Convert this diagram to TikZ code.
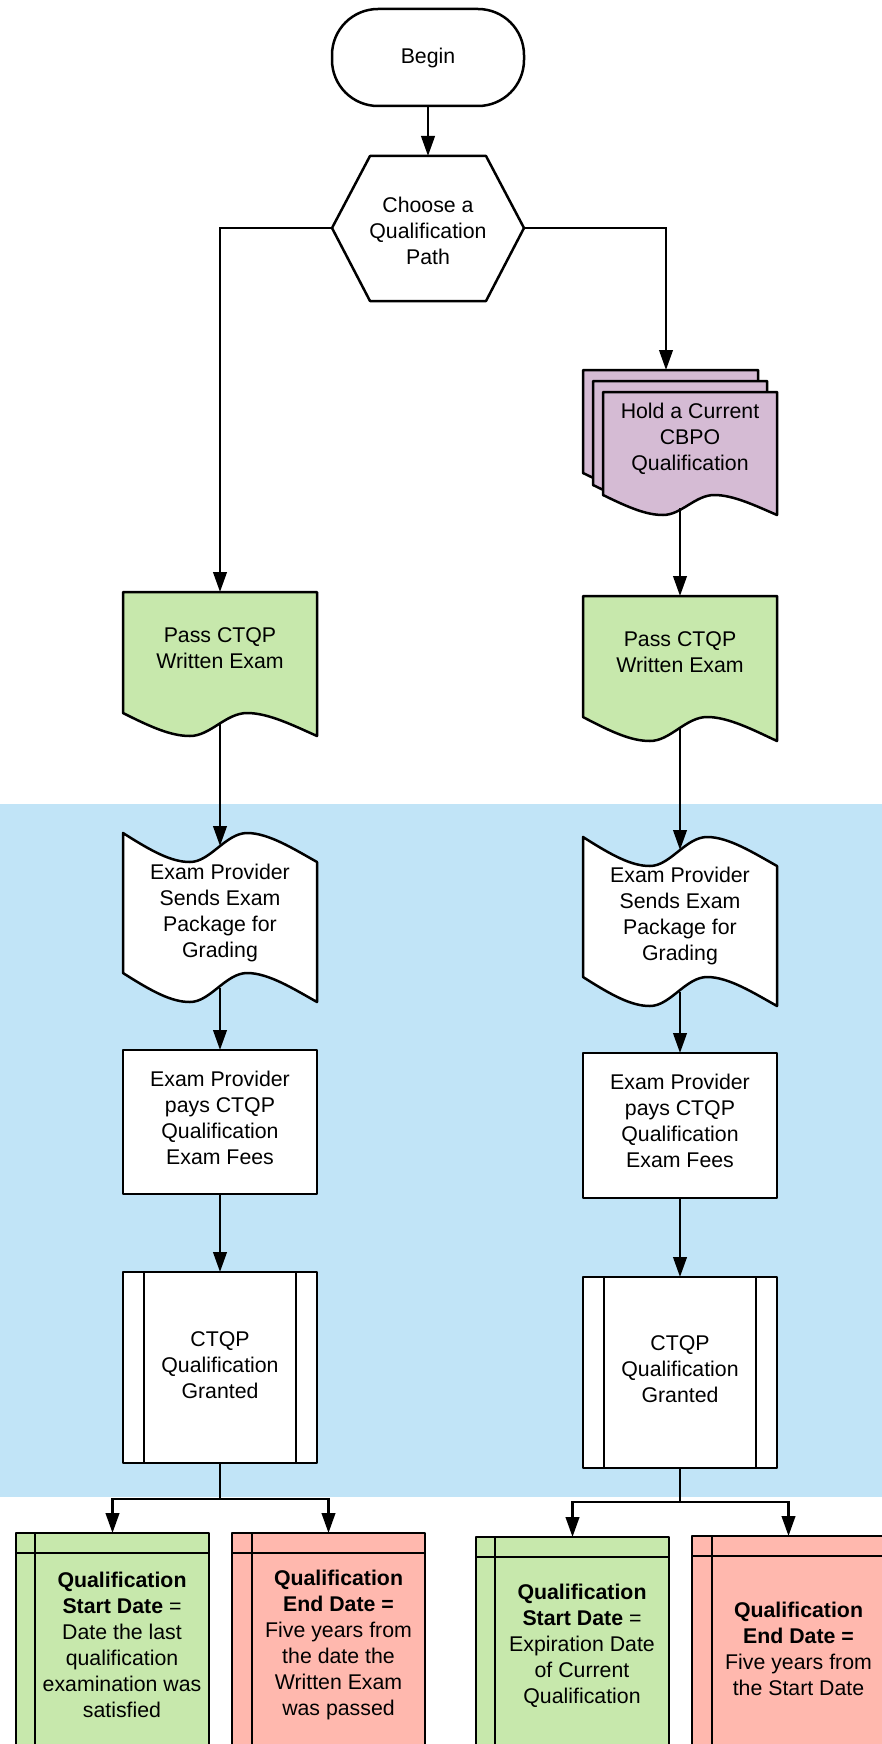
\documentclass[tikz,border=0pt]{standalone}
\usepackage{fontspec}
\setmainfont{Liberation Sans}
\usetikzlibrary{arrows.meta}
\definecolor{bgblue}{HTML}{C1E4F7}
\definecolor{docgreen}{HTML}{C7E8AC}
\definecolor{docpurple}{HTML}{D5BBD4}
\definecolor{docred}{HTML}{FFB8AE}
\tikzset{
  shp/.style={draw=black, line width=2.5pt, line join=round},
  conn/.style={draw=black, line width=2.5pt, -{Triangle[length=20pt,width=13.5pt]}},
  plain/.style={draw=black, line width=2.5pt},
  txt/.style={align=center, inner sep=0pt, font=\fontsize{21.3}{26}\selectfont}
}
% document shape: x, ytop, w, ybottom-left, amplitude, style
\newcommand\docshape[6]{%
  \path[#6] (#1,#2) -- ({#1+#3},#2) -- ({#1+#3},{#4+#5})
    .. controls ({#1+0.88*#3},{#4+0.55*#5}) and ({#1+0.75*#3},#4) .. ({#1+0.64*#3},#4)
    .. controls ({#1+0.53*#3},#4) and ({#1+0.45*#3},{#4+#5}) .. ({#1+0.345*#3},{#4+#5})
    .. controls ({#1+0.25*#3},{#4+#5}) and ({#1+0.15*#3},{#4+0.64*#5}) .. (#1,#4) -- cycle;}
% tape shape: x, ytop-left, w, ybottom-left, amplitude, style
\newcommand\tapeshape[6]{%
  \path[#6] (#1,#2)
    .. controls ({#1+0.15*#3},{#2+0.64*#5}) and ({#1+0.25*#3},{#2+#5}) .. ({#1+0.345*#3},{#2+#5})
    .. controls ({#1+0.45*#3},{#2+#5}) and ({#1+0.53*#3},#2) .. ({#1+0.64*#3},#2)
    .. controls ({#1+0.75*#3},#2) and ({#1+0.88*#3},{#2+0.55*#5}) .. ({#1+#3},{#2+#5})
    -- ({#1+#3},{#4+#5})
    .. controls ({#1+0.88*#3},{#4+0.55*#5}) and ({#1+0.75*#3},#4) .. ({#1+0.64*#3},#4)
    .. controls ({#1+0.53*#3},#4) and ({#1+0.45*#3},{#4+#5}) .. ({#1+0.345*#3},{#4+#5})
    .. controls ({#1+0.25*#3},{#4+#5}) and ({#1+0.15*#3},{#4+0.64*#5}) .. (#1,#4) -- cycle;}
% stored-data box: xl, ytop, xr, inner x, inner y, fill
\newcommand\storebox[6]{%
  \path[shp, fill=#6] (#1,#2) rectangle (#3,1770);
  \draw[plain] (#4,#2) -- (#4,1770);
  \draw[plain] (#1,#5) -- (#3,#5);}
\begin{document}
\begin{tikzpicture}[x=1pt,y=-1pt]
\useasboundingbox (0,0) rectangle (882,1744);
\clip (0,0) rectangle (882,1744);
\fill[white] (0,0) rectangle (882,1744);
\fill[bgblue] (0,804) rectangle (882,1497);

% Begin
\node[shp, rectangle, rounded corners=46pt, minimum width=192pt, minimum height=97pt,
      txt] (begin) at (428,57.5) {Begin};
% Hexagon
\path[shp, fill=white] (332,228) -- (370,156) -- (486,156) -- (524,228) -- (486,301) -- (370,301) -- cycle;
\node[txt] (choose) at (428,231) {Choose a\\Qualification\\Path};
\coordinate (chooseN) at (428,156);
\coordinate (chooseW) at (332,228);
\coordinate (chooseE) at (524,228);

% Stack (right)
\docshape{583}{370}{175}{473}{20}{shp, fill=docpurple}
\docshape{593}{381}{174}{485}{20}{shp, fill=docpurple}
\docshape{603}{392}{174}{495}{20}{shp, fill=docpurple}
\node[txt] (hold) at (690,439) {Hold a Current\\CBPO\\Qualification};
\coordinate (holdN) at (666,370);
\coordinate (holdS) at (680,508);

% Pass CTQP
\docshape{123}{592}{194}{713}{23}{shp, fill=docgreen}
\node[txt] (passL) at (220,648) {Pass CTQP\\Written Exam};
\coordinate (passLN) at (220,592);
\coordinate (passLS) at (220,724);
\docshape{583}{596}{194}{717}{24}{shp, fill=docgreen}
\node[txt] (passR) at (680,652) {Pass CTQP\\Written Exam};
\coordinate (passRN) at (680,596);
\coordinate (passRS) at (680,729);

% Exam provider sends
\tapeshape{123}{833}{194}{973}{29}{shp, fill=white}
\node[txt] (sendL) at (220,913) {Exam Provider\\Sends Exam\\Package for\\Grading};
\coordinate (sendLN) at (220,846);
\coordinate (sendLS) at (220,988);
\tapeshape{583}{837}{194}{977}{29}{shp, fill=white}
\node[txt] (sendR) at (680,916) {Exam Provider\\Sends Exam\\Package for\\Grading};
\coordinate (sendRN) at (680,850);
\coordinate (sendRS) at (680,992);

% Pays
\path[shp, fill=white] (123,1050) rectangle (317,1194);
\node[txt] (payL) at (220,1118) {Exam Provider\\pays CTQP\\Qualification\\Exam Fees};
\coordinate (payLN) at (220,1050);
\coordinate (payLS) at (220,1194);
\path[shp, fill=white] (583,1053) rectangle (777,1198);
\node[txt] (payR) at (680,1121) {Exam Provider\\pays CTQP\\Qualification\\Exam Fees};
\coordinate (payRN) at (680,1053);
\coordinate (payRS) at (680,1198);

% Granted
\path[shp, fill=white] (123,1272) rectangle (317,1463);
\draw[plain] (144,1272) -- (144,1463);
\draw[plain] (296,1272) -- (296,1463);
\node[txt] (grantL) at (220,1365) {CTQP\\Qualification\\Granted};
\coordinate (grantLN) at (220,1272);
\coordinate (grantLS) at (220,1463);
\path[shp, fill=white] (583,1277) rectangle (777,1468);
\draw[plain] (604,1277) -- (604,1468);
\draw[plain] (756,1277) -- (756,1468);
\node[txt] (grantR) at (680,1369) {CTQP\\Qualification\\Granted};
\coordinate (grantRN) at (680,1277);
\coordinate (grantRS) at (680,1468);

% Bottom boxes
\storebox{16}{1533}{209}{35}{1553}{docgreen}
\node[txt] (startL) at (122,1645) {\textbf{Qualification}\\\textbf{Start Date} =\\Date the last\\qualification\\examination was\\satisfied};
\coordinate (startLN) at (112.5,1533);
\storebox{232}{1533}{425}{252}{1553}{docred}
\node[txt] (endL) at (338.5,1645) {\textbf{Qualification}\\\textbf{End Date =}\\Five years from\\the date the\\Written Exam\\was passed};
\coordinate (endLN) at (328.5,1533);
\storebox{476}{1537}{669}{495}{1557}{docgreen}
\node[txt] (startR) at (582,1646) {\textbf{Qualification}\\\textbf{Start Date} =\\Expiration Date\\of Current\\Qualification};
\coordinate (startRN) at (572.5,1537);
\storebox{692}{1536}{885}{712}{1556}{docred}
\node[txt] (endR) at (798.5,1649) {\textbf{Qualification}\\\textbf{End Date =}\\Five years from\\the Start Date};
\coordinate (endRN) at (788.5,1536);

% Junctions
\coordinate (jL) at (220,1499);
\coordinate (jR) at (680,1502);

% Connectors
\draw[conn] (begin.south) -- (chooseN);
\draw[conn] (chooseW) -| (passLN);
\draw[conn] (chooseE) -| (holdN);
\draw[conn] (holdS) -- (passRN);
\draw[conn] (passLS) -- (sendLN);
\draw[conn] (passRS) -- (sendRN);
\draw[conn] (sendLS) -- (payLN);
\draw[conn] (sendRS) -- (payRN);
\draw[conn] (payLS) -- (grantLN);
\draw[conn] (payRS) -- (grantRN);
\draw[plain] (grantLS) -- (jL);
\draw[conn] (jL) -| (startLN);
\draw[conn] (jL) -| (endLN);
\draw[plain] (grantRS) -- (jR);
\draw[conn] (jR) -| (startRN);
\draw[conn] (jR) -| (endRN);
\end{tikzpicture}
\end{document}
